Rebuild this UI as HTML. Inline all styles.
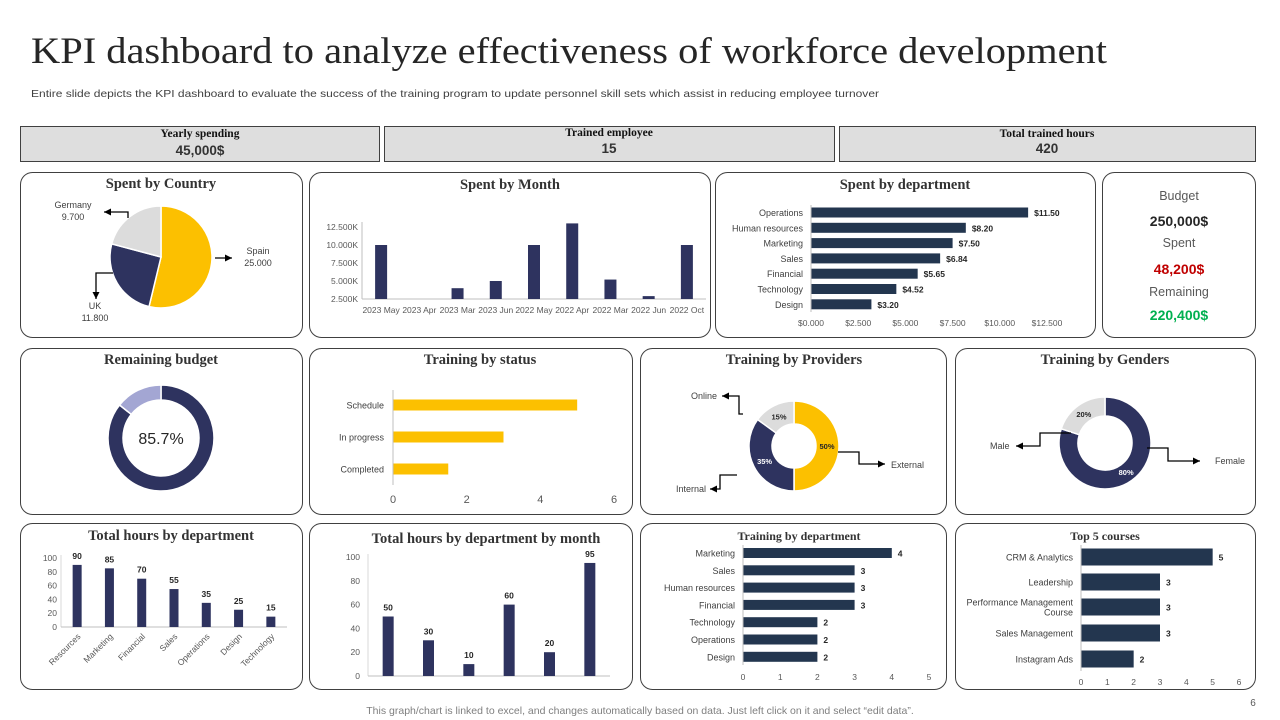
<!DOCTYPE html>
<html><head><meta charset="utf-8"><style>
html,body{margin:0;padding:0;background:#fff;}
svg{display:block;font-family:"Liberation Sans",sans-serif;}
.pt{font-family:"Liberation Serif",serif;font-weight:bold;font-size:14.5px;fill:#333;text-anchor:middle;}
.lab{font-size:9px;fill:#404040;}
.tk{font-size:8.5px;fill:#595959;}
</style></head><body>
<svg id="s" width="1280" height="720" viewBox="0 0 1280 720" xmlns="http://www.w3.org/2000/svg">
<text x="31" y="63" font-family="Liberation Serif,serif" font-size="37" fill="#262626" textLength="1076" lengthAdjust="spacingAndGlyphs">KPI dashboard to analyze effectiveness of workforce development</text>
<text x="31" y="97" font-size="10.5" fill="#404040" textLength="848" lengthAdjust="spacingAndGlyphs">Entire slide depicts the KPI dashboard to evaluate the success of the training program to update personnel skill sets which assist in reducing employee turnover</text>

<g><rect x="20.5" y="126.5" width="359" height="35" fill="#dedede" stroke="#404040"/><text class="pt" x="200" y="137" style="font-size:11.5px;fill:#111">Yearly spending</text><text x="200" y="155" font-size="13.5" font-weight="bold" fill="#333" text-anchor="middle">45,000$</text></g>
<g><rect x="384.5" y="126.5" width="450" height="35" fill="#dedede" stroke="#404040"/><text class="pt" x="609" y="136" style="font-size:11.5px;fill:#111">Trained employee</text><text x="609" y="153" font-size="13.5" font-weight="bold" fill="#333" text-anchor="middle">15</text></g>
<g><rect x="839.5" y="126.5" width="416" height="35" fill="#dedede" stroke="#404040"/><text class="pt" x="1047" y="137" style="font-size:11.5px;fill:#111">Total trained hours</text><text x="1047" y="153" font-size="13.5" font-weight="bold" fill="#333" text-anchor="middle">420</text></g>

<g fill="none" stroke="#404040" stroke-width="1">
<rect x="20.5" y="172.5" width="282" height="165" rx="12"/>
<rect x="309.5" y="172.5" width="401" height="165" rx="12"/>
<rect x="715.5" y="172.5" width="380" height="165" rx="12"/>
<rect x="1102.5" y="172.5" width="153" height="165" rx="12"/>
<rect x="20.5" y="348.5" width="282" height="166" rx="12"/>
<rect x="309.5" y="348.5" width="323" height="166" rx="12"/>
<rect x="640.5" y="348.5" width="306" height="166" rx="12"/>
<rect x="955.5" y="348.5" width="300" height="166" rx="12"/>
<rect x="20.5" y="523.5" width="282" height="166" rx="12"/>
<rect x="309.5" y="523.5" width="323" height="166" rx="12"/>
<rect x="640.5" y="523.5" width="306" height="166" rx="12"/>
<rect x="955.5" y="523.5" width="300" height="166" rx="12"/>
</g>
<text class="pt" x="161" y="188">Spent by Country</text>
<text class="pt" x="510" y="189">Spent by Month</text>
<text class="pt" x="905" y="189">Spent by department</text>
<text class="pt" x="161" y="364">Remaining budget</text>
<text class="pt" x="480" y="364">Training by status</text>
<text class="pt" x="794" y="364">Training by Providers</text>
<text class="pt" x="1105" y="364">Training by Genders</text>
<text class="pt" x="171" y="540">Total hours by department</text>
<text class="pt" x="486" y="543">Total hours by department by month</text>
<text class="pt" x="799" y="540" style="font-size:12px">Training by department</text>
<text class="pt" x="1105" y="540" style="font-size:12px">Top 5 courses</text>

<g text-anchor="middle">
<text x="1179" y="200" font-size="12.5" fill="#595959">Budget</text>
<text x="1179" y="226" font-size="14" font-weight="bold" fill="#262626">250,000$</text>
<text x="1179" y="247" font-size="12.5" fill="#595959">Spent</text>
<text x="1179" y="274" font-size="14" font-weight="bold" fill="#c00000">48,200$</text>
<text x="1179" y="296" font-size="12.5" fill="#595959">Remaining</text>
<text x="1179" y="320" font-size="14" font-weight="bold" fill="#00b050">220,400$</text>
</g>
<text x="640" y="714" font-size="10.5" fill="#7f7f7f" text-anchor="middle">This graph/chart is linked to excel, and changes automatically based on data. Just left click on it and select “edit data”.</text>
<text x="1253" y="706" font-size="10" fill="#595959" text-anchor="middle">6</text>
</svg>
<script>
const countryNames=["Spain","UK","Germany"];
const countryValues=[25000,11800,9700];
const countryLabels=["25.000","11.800","9.700"];
const monthCats=["2023 May","2023 Apr","2023 Mar","2023 Jun","2022 May","2022 Apr","2022 Mar","2022 Jun","2022 Oct"];
const monthValues=[10000,0,4000,5000,10000,13000,5200,2900,10000];
const monthTicks=[2500,5000,7500,10000,12500];
const monthTickLabels=["2.500K","5.000K","7.500K","10.000K","12.500K"];
const deptCats=["Operations","Human resources","Marketing","Sales","Financial","Technology","Design"];
const deptValues=[11.5,8.2,7.5,6.84,5.65,4.52,3.2];
const deptTicks=[0,2.5,5,7.5,10,12.5];
const deptTickLabels=["$0.000","$2.500","$5.000","$7.500","$10.000","$12.500"];
const remainingPct=[85.7,14.3];
const statusCats=["Schedule","In progress","Completed"];
const statusValues=[5,3,1.5];
const statusTicks=[0,2,4,6];
const providerCats=["External","Internal","Online"];
const providerValues=[50,35,15];
const genderCats=["Female","Male"];
const genderValues=[80,20];
const hoursCats=["Resources","Marketing","Financial","Sales","Operations","Design","Technology"];
const hoursValues=[90,85,70,55,35,25,15];
const hoursTicks=[0,20,40,60,80,100];
const monthHoursValues=[50,30,10,60,20,95];
const trainDeptCats=["Marketing","Sales","Human resources","Financial","Technology","Operations","Design"];
const trainDeptValues=[4,3,3,3,2,2,2];
const trainDeptTicks=[0,1,2,3,4,5];
const courseCats=[["CRM & Analytics"],["Leadership"],["Performance Management","Course"],["Sales Management"],["Instagram Ads"]];
const courseValues=[5,3,3,3,2];
const courseTicks=[0,1,2,3,4,5,6];

const svg=document.getElementById('s');
const NS="http://www.w3.org/2000/svg";
const NAVY="#2e335f",YEL="#fcc000",GRAY="#dcdcdc",SLATE="#23364f";
function mk(tag,a,p){const e=document.createElementNS(NS,tag);for(const k in a)e.setAttribute(k,a[k]);(p||svg).appendChild(e);return e;}
function txt(x,y,s,a){const e=mk('text',Object.assign({x:x,y:y},a||{}));e.textContent=s;return e;}
function arc(cx,cy,r0,r1,a0,a1){
 const p=(r,a)=>[cx+r*Math.sin(a),cy-r*Math.cos(a)];
 const lg=(a1-a0)>Math.PI?1:0;
 const [x1,y1]=p(r1,a0),[x2,y2]=p(r1,a1);
 if(r0===0)return `M${cx},${cy}L${x1},${y1}A${r1},${r1} 0 ${lg} 1 ${x2},${y2}Z`;
 const [x3,y3]=p(r0,a1),[x4,y4]=p(r0,a0);
 return `M${x1},${y1}A${r1},${r1} 0 ${lg} 1 ${x2},${y2}L${x3},${y3}A${r0},${r0} 0 ${lg} 0 ${x4},${y4}Z`;
}
function pieSlices(vals,cx,cy,r0,r1,cols,name){
 const tot=vals.reduce((a,b)=>a+b,0);let a=0;const mids=[];
 vals.forEach((v,i)=>{const b=a+v/tot*2*Math.PI;
  const e=mk('path',{d:arc(cx,cy,r0,r1,a,b),fill:cols[i],stroke:'#fff','stroke-width':1.5});
  
  
  mids.push((a+b)/2);a=b;});
 return mids;
}
function arrowLine(pts,name){
 const e=mk('polyline',{points:pts.map(p=>p.join(',')).join(' '),fill:'none',stroke:'#000','stroke-width':1.3});
 
 
 const n=pts.length,[x1,y1]=pts[n-2],[x2,y2]=pts[n-1];const ang=Math.atan2(y2-y1,x2-x1);
 const h=mk('path',{d:`M${x2},${y2}L${x2-7*Math.cos(ang)+3.5*Math.sin(ang)},${y2-7*Math.sin(ang)-3.5*Math.cos(ang)}L${x2-7*Math.cos(ang)-3.5*Math.sin(ang)},${y2-7*Math.sin(ang)+3.5*Math.cos(ang)}Z`,fill:'#000'});
 
 
}

// Spent by country
pieSlices(countryValues,161,257,0,51,[YEL,NAVY,GRAY],'country-pie');
txt(258,254,countryNames[0],{class:'lab','text-anchor':'middle'});
txt(258,266,countryLabels[0],{class:'lab','text-anchor':'middle'});
txt(95,309,countryNames[1],{class:'lab','text-anchor':'middle'});
txt(95,321,countryLabels[1],{class:'lab','text-anchor':'middle'});
txt(73,208,countryNames[2],{class:'lab','text-anchor':'middle'});
txt(73,220,countryLabels[2],{class:'lab','text-anchor':'middle'});
arrowLine([[215,258],[232,258]],'spain-callout');
arrowLine([[113,273],[96,273],[96,299]],'uk-callout');
arrowLine([[128,218],[128,212],[104,212]],'germany-callout');

// Spent by month
(function(){
 const x0=362,x1=706,yb=299,yt=227;
 const y=v=>yb-(v-2500)/(10000)*(yb-yt);
 const bw=(x1-x0)/monthCats.length;
 mk('line',{x1:x0,y1:yt-5,x2:x0,y2:yb,stroke:'#bfbfbf'});
 mk('line',{x1:x0,y1:yb,x2:x1,y2:yb,stroke:'#bfbfbf'});
 monthTicks.forEach((t,i)=>{txt(x0-4,y(t)+3,monthTickLabels[i],{class:'tk','text-anchor':'end'});});
 monthCats.forEach((c,i)=>{const cx=x0+bw*(i+.5);
  txt(cx,313,c,{class:'tk','text-anchor':'middle','font-size':'7.5'});
  const v=monthValues[i];if(v>2500){const b=mk('rect',{x:cx-6,y:y(v),width:12,height:yb-y(v),fill:NAVY});
  
  }});
})();

function hbar(cats,vals,x0,x1,max,rowY,bh,col,labX,valFmt,name,fs){
 const sx=v=>x0+v/max*(x1-x0);
 cats.forEach((c,i)=>{const yy=rowY[i];
  const lines=Array.isArray(c)?c:[c];
  lines.forEach((l,j)=>txt(labX,yy+3.5+(j-(lines.length-1)/2)*10,l,{class:'lab','text-anchor':'end','font-size':fs||9}));
  const b=mk('rect',{x:x0,y:yy-bh/2,width:sx(vals[i])-x0,height:bh,fill:col});
  
  
  if(valFmt)txt(sx(vals[i])+6,yy+3.5,valFmt(vals[i]),{'font-size':'8.5','font-weight':'bold',fill:'#262626'});
 });
 return sx;
}
(function(){
 const rows=deptCats.map((c,i)=>212.5+i*15.3);
 const sx=hbar(deptCats,deptValues,811,1047,12.5,rows,10,SLATE,803,v=>'$'+v.toFixed(2),'dept-spend');
 mk('line',{x1:811,y1:205,x2:811,y2:312,stroke:'#bfbfbf'});
 deptTicks.forEach((t,i)=>txt(sx(t),326,deptTickLabels[i],{class:'tk','text-anchor':'middle','font-size':'9'}));
})();

pieSlices(remainingPct,161,438,38,53,[NAVY,"#a3a6d3"],'remaining-donut');
txt(161,444,remainingPct[0]+'%',{'font-size':'16','text-anchor':'middle',fill:'#262626'});

(function(){
 const rows=[405,437,469];
 const sx=hbar(statusCats,statusValues,393,614,6,rows,11,YEL,384,null,'status');
 mk('line',{x1:393,y1:390,x2:393,y2:485,stroke:'#bfbfbf'});
 statusTicks.forEach(t=>txt(sx(t),503,t,{'font-size':'11',fill:'#595959','text-anchor':'middle'}));
})();

(function(){
 const m=pieSlices(providerValues,794,446,22,45,[YEL,NAVY,GRAY],'providers-donut');
 const tc=['#262626','#fff','#262626'];
 providerValues.forEach((v,i)=>txt(794+33*Math.sin(m[i]),446-33*Math.cos(m[i])+3,v+'%',{'font-size':'7.5','font-weight':'bold',fill:tc[i],'text-anchor':'middle'}));
 txt(891,468,providerCats[0],{class:'lab'});
 txt(676,492,providerCats[1],{class:'lab'});
 txt(691,399,providerCats[2],{class:'lab'});
 arrowLine([[838,452],[859,452],[859,464],[885,464]],'external-callout');
 arrowLine([[737,475],[720,475],[720,489],[710,489]],'internal-callout');
 arrowLine([[743,414],[739,414],[739,396],[722,396]],'online-callout');
})();

(function(){
 const m=pieSlices(genderValues,1105,443,27,46,[NAVY,GRAY],'genders-donut');
 const tc=['#fff','#262626'];
 genderValues.forEach((v,i)=>txt(1105+36*Math.sin(m[i]),443-36*Math.cos(m[i])+3,v+'%',{'font-size':'7.5','font-weight':'bold',fill:tc[i],'text-anchor':'middle'}));
 txt(1215,464,genderCats[0],{class:'lab'});
 txt(990,449,genderCats[1],{class:'lab'});
 arrowLine([[1071,433],[1040,433],[1040,446],[1016,446]],'male-callout');
 arrowLine([[1147,448],[1168,448],[1168,461],[1200,461]],'female-callout');
})();

function vbar(vals,x0,x1,yb,yt,max,bw,name){
 const y=v=>yb-v/max*(yb-yt);const band=(x1-x0)/vals.length;
 mk('line',{x1:x0,y1:yt-3,x2:x0,y2:yb,stroke:'#d9d9d9'});
 mk('line',{x1:x0,y1:yb,x2:x1,y2:yb,stroke:'#bfbfbf'});
 vals.forEach((v,i)=>{const cx=x0+band*(i+.5);
  const b=mk('rect',{x:cx-bw/2,y:y(v),width:bw,height:yb-y(v),fill:NAVY});
  
  
  txt(cx,y(v)-6,v,{'font-size':'8.5','font-weight':'bold',fill:'#262626','text-anchor':'middle'});});
 return {y,band};
}
(function(){
 const x0=61,x1=287;
 const r=vbar(hoursValues,x0,x1,627,558,100,9,'hours-dept');
 hoursTicks.forEach(t=>txt(x0-4,r.y(t)+3,t,{class:'tk','text-anchor':'end'}));
 hoursCats.forEach((c,i)=>{const cx=x0+r.band*(i+.5)+4;txt(cx,637,c,{class:'tk','text-anchor':'end','font-size':'9',transform:`rotate(-45 ${cx} 637)`});});
})();
(function(){
 const x0=368,x1=610;
 const r=vbar(monthHoursValues,x0,x1,676,557,100,11,'hours-month');
 hoursTicks.forEach(t=>txt(x0-8,r.y(t)+3,t,{class:'tk','text-anchor':'end'}));
})();
(function(){
 const rows=trainDeptCats.map((c,i)=>553+i*17.3);
 const sx=hbar(trainDeptCats,trainDeptValues,743,929,5,rows,10,SLATE,735,v=>v,'train-dept');
 mk('line',{x1:743,y1:545,x2:743,y2:665,stroke:'#bfbfbf'});
 trainDeptTicks.forEach(t=>txt(sx(t),680,t,{class:'tk','text-anchor':'middle'}));
})();
(function(){
 const rows=[557,582,607,633,659];
 const sx=hbar(courseCats,courseValues,1081,1239,6,rows,17,SLATE,1073,v=>v,'course',8.5);
 mk('line',{x1:1081,y1:545,x2:1081,y2:671,stroke:'#bfbfbf'});
 courseTicks.forEach(t=>txt(sx(t),685,t,{class:'tk','text-anchor':'middle'}));
})();
</script>
</body></html>
